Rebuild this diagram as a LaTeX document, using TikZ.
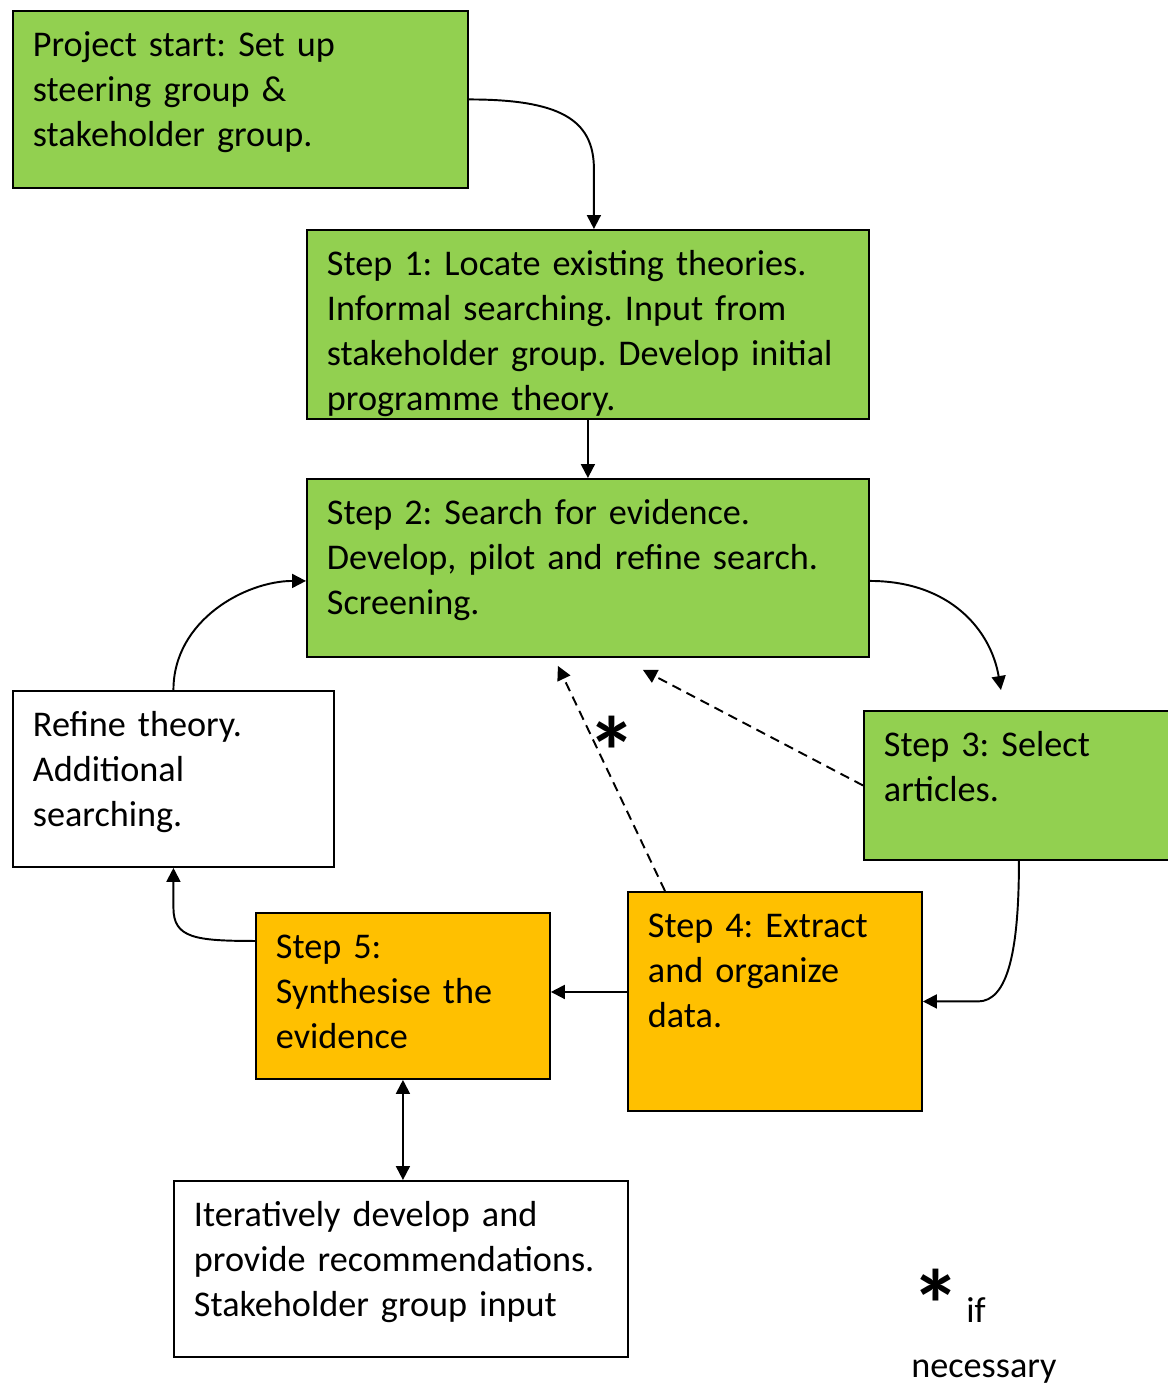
\documentclass[tikz,border=0pt]{standalone}
\usepackage{fontspec}
\setmainfont{Carlito}
\frenchspacing
\usetikzlibrary{arrows.meta, positioning}
\definecolor{stepgreen}{HTML}{92D050}
\definecolor{steporange}{HTML}{FFC000}
\tikzset{
>={Triangle[length=0.28cm,width=0.28cm]}, % filled triangle tips
every node/.style={font=\fontsize{20.6}{25.6}\selectfont}, % body text of the boxes
stepbox/.style={draw, line width=1.1pt, anchor=north west, align=left, inner xsep=0.4cm, inner ysep=0.42cm, text height=0.5cm}, % text sits top left, text depth sets the height
link/.style={->, line width=1.1pt}, % plain flow arrow
hint/.style={->, line width=1.1pt, dash pattern=on 5.5pt off 3.5pt}, % dashed way back
bigstar/.style={font=\fontsize{56}{60}\bfseries\selectfont}, % the large asterisk
}
\begin{document}
\begin{tikzpicture}[x=0.02cm, y=-0.02cm]
\useasboundingbox (0,0) rectangle (1168,1385);

\node[stepbox, fill=stepgreen, text width=8.3cm, text depth=2.2cm] (start) at (12,10) {Project start: Set up\\steering group \&\\stakeholder group.};
\node[stepbox, fill=stepgreen, text width=10.44cm, text depth=2.44cm] (s1) at (306,229) {Step 1: Locate existing theories.\\Informal searching. Input from\\stakeholder group. Develop initial\\programme theory.};
\node[stepbox, fill=stepgreen, text width=10.44cm, text depth=2.22cm] (s2) at (306,478) {Step 2: Search for evidence.\\Develop, pilot and refine search.\\Screening.};
\node[stepbox, fill=stepgreen, text width=5.4cm, text depth=1.64cm] (s3) at (863,710) {Step 3: Select\\articles.};
\node[stepbox, fill=white, text width=5.62cm, text depth=2.18cm] (refine) at (12,690) {Refine theory.\\Additional\\searching.};
\node[stepbox, fill=steporange, text width=5.08cm, text depth=3.04cm] (s4) at (627,891) {Step 4: Extract\\and organize\\data.};
\node[stepbox, fill=steporange, text width=5.08cm, text depth=1.98cm] (s5) at (255,912) {Step 5:\\Synthesise the\\evidence};
\node[stepbox, text width=8.28cm, text depth=2.18cm] (iter) at (173,1180) {Iteratively develop and\\provide recommendations.\\Stakeholder group input};

% flow between the steps
\draw[link] (start.east) .. controls +(90,0) and +(0,-50) .. ([xshift=0.12cm,yshift=1.2cm]s1.north) -- ([xshift=0.12cm]s1.north);
\draw[link] (s1.south) -- (s2.north);
\draw[link] ([yshift=-0.26cm]s2.east) .. controls +(80,0) and +(-10,-60) .. ([xshift=-0.36cm,yshift=0.4cm]s3.north);
\draw[link] (s3.south) .. controls +(0,90) and +(30,0) .. ([xshift=1.1cm]s4.east) -- (s4.east);
\draw[link] ([yshift=0.08cm]s5.east -| s4.west) -- ([yshift=0.08cm]s5.east);
\draw[link] ([yshift=1.1cm]s5.west) .. controls +(-60,0) and +(0,30) .. ([yshift=-0.8cm]refine.south) -- (refine.south);
\draw[link] (refine.north) .. controls +(0,-70) and +(-60,0) .. ([yshift=-0.26cm]s2.west);
\draw[<->, line width=1.1pt] (s5.south) -- (s5.south |- iter.north);

% dashed returns to step 2
\draw[hint] ([xshift=0.76cm]s4.north west) -- ([xshift=-0.6cm,yshift=-0.16cm]s2.south);
\draw[hint] (s3.west) -- ([xshift=1.1cm,yshift=-0.24cm]s2.south);
\node[anchor=base, bigstar] (mark) at (612,786) {*};

% footnote
\node[anchor=base west, inner sep=0pt, align=left, text width=3.4cm] (note) at (911,1322) {\smash{\raisebox{-0.34cm}{\fontsize{56}{60}\bfseries\selectfont *}}\,if\\[6pt]necessary};
\end{tikzpicture}
\end{document}
